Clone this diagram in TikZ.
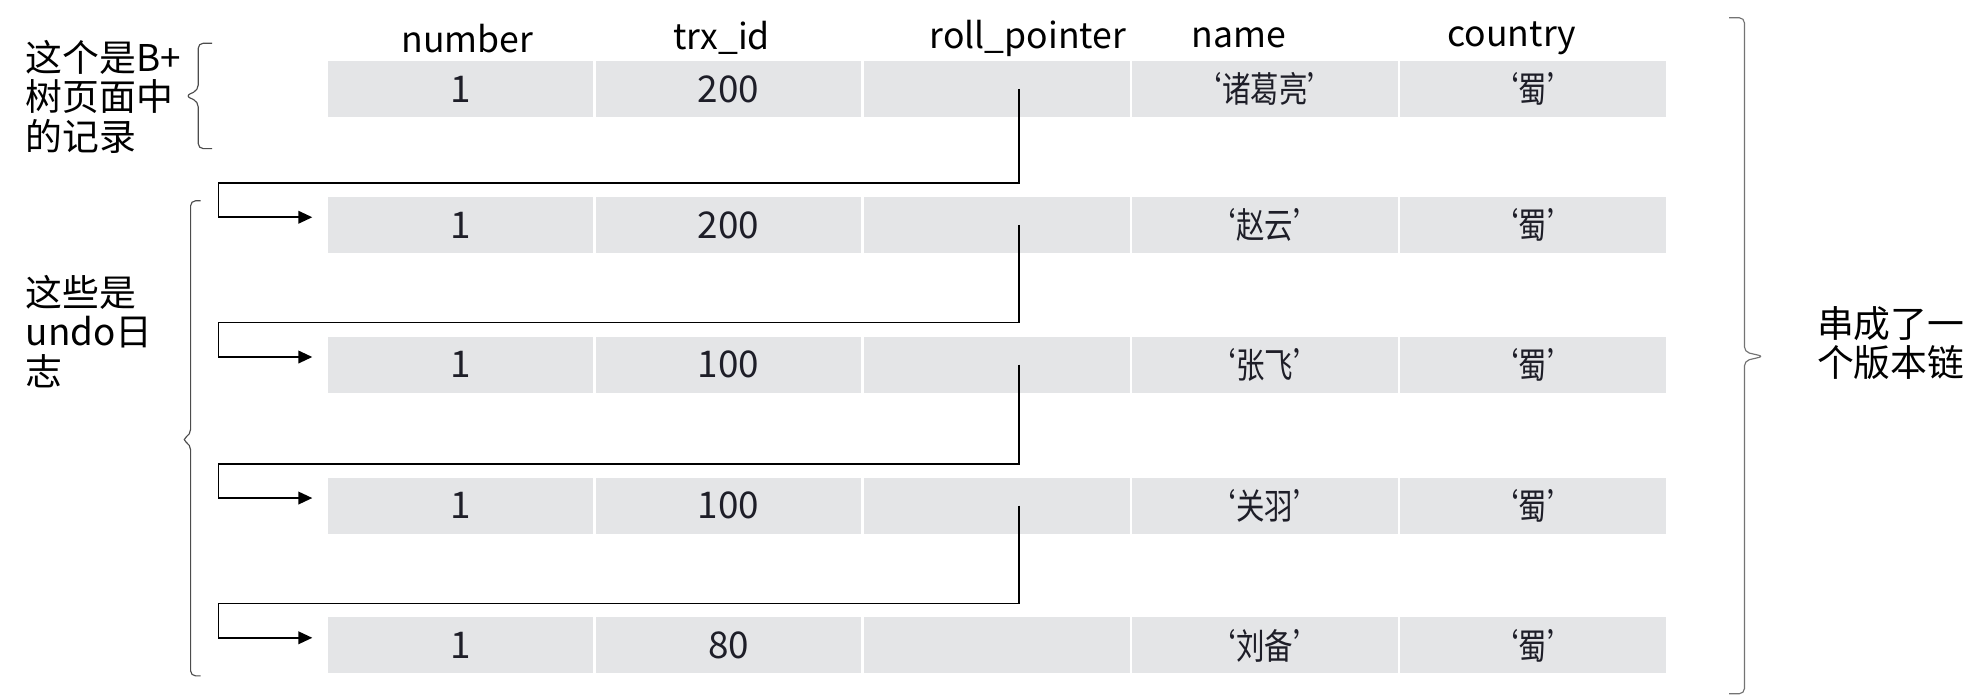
\documentclass[tikz,border=0pt]{standalone}
\usepackage{fontspec}
\setmainfont{Noto Sans CJK SC}
\newfontfamily\cellfont[FakeStretch=0.8]{Noto Sans CJK SC}
\usetikzlibrary{arrows.meta}
\definecolor{cellgray}{RGB}{228,229,231}
\definecolor{celltext}{RGB}{30,30,40}
\tikzset{
  cell/.style={fill=cellgray, minimum width=209pt, minimum height=44pt, inner sep=0pt,
    text=celltext, font=\cellfont\fontsize{28}{30}\selectfont},
  numcell/.style={cell, font=\fontsize{29}{30}\selectfont},
  colhead/.style={inner sep=0pt, font=\fontsize{28}{30}\selectfont},
  lbl/.style={align=left, anchor=west, inner sep=0pt, font=\fontsize{29}{31}\selectfont},
  ptr/.style={line width=1.2pt, -{Triangle[length=11pt,width=10pt]}},
  curly/.style={line width=0.9pt, draw=black!70, rounded corners=4pt},
}

\begin{document}
\begin{tikzpicture}[x=1pt,y=1pt]
    \useasboundingbox (0,0) rectangle (1560,547);
    % column heads
    \node[colhead] (hnum) at (368,517) {number};
    \node[colhead] (htrx) at (568,517) {trx\_id};
    \node[colhead] (hroll) at (809,517) {roll\_pointer};
    \node[colhead] (hname) at (975,517) {name};
    \node[colhead] (hcty) at (1190,517) {country};
    % records
    \foreach \r/\y/\t/\n in {1/477/200/‘诸葛亮’, 2/370/200/‘赵云’, 3/260/100/‘张飞’, 4/149/100/‘关羽’, 5/39/80/‘刘备’}{
      \node[numcell] (c\r-1) at (362.5,\y) {1};
      \node[numcell] (c\r-2) at (573.5,\y) {\t};
      \node[cell] (c\r-3) at (784.5,\y) {};
      \node[cell] (c\r-4) at (995.5,\y) {\n};
      \node[cell] (c\r-5) at (1206.5,\y) {‘蜀’};
    }
    % roll_pointer chain
    \foreach \a/\b in {1/2, 2/3, 3/4, 4/5}{
      \draw[ptr] ([xshift=17.5pt]c\a-3.center) |- ([xshift=-86pt,yshift=33pt]c\b-1.west)
        |- ([xshift=-12pt,yshift=6pt]c\b-1.west);
    }
    % braces and labels
    \draw[curly] (167,513) -- (156,513) -- (156,476) -- (146,471.5) -- (156,467) -- (156,430) -- (167,430);
    \draw[curly] (158,389) -- (150,389) -- (150,205) -- (143,201) -- (150,197) -- (150,15) -- (158,15);
    \draw[curly, draw=black!55] (1361,533) -- (1373,533) -- (1373,270) -- (1388,266.5) -- (1373,263) -- (1373,1) -- (1361,1);
    \node[lbl] (lblpage) at (20,471) {这个是B+\\树页面中\\的记录};
    \node[lbl] (lblundo) at (20,286) {这些是\\undo日\\志};
    \node[lbl] (lblchain) at (1430,277) {串成了一\\个版本链};
  \end{tikzpicture}
\end{document}
